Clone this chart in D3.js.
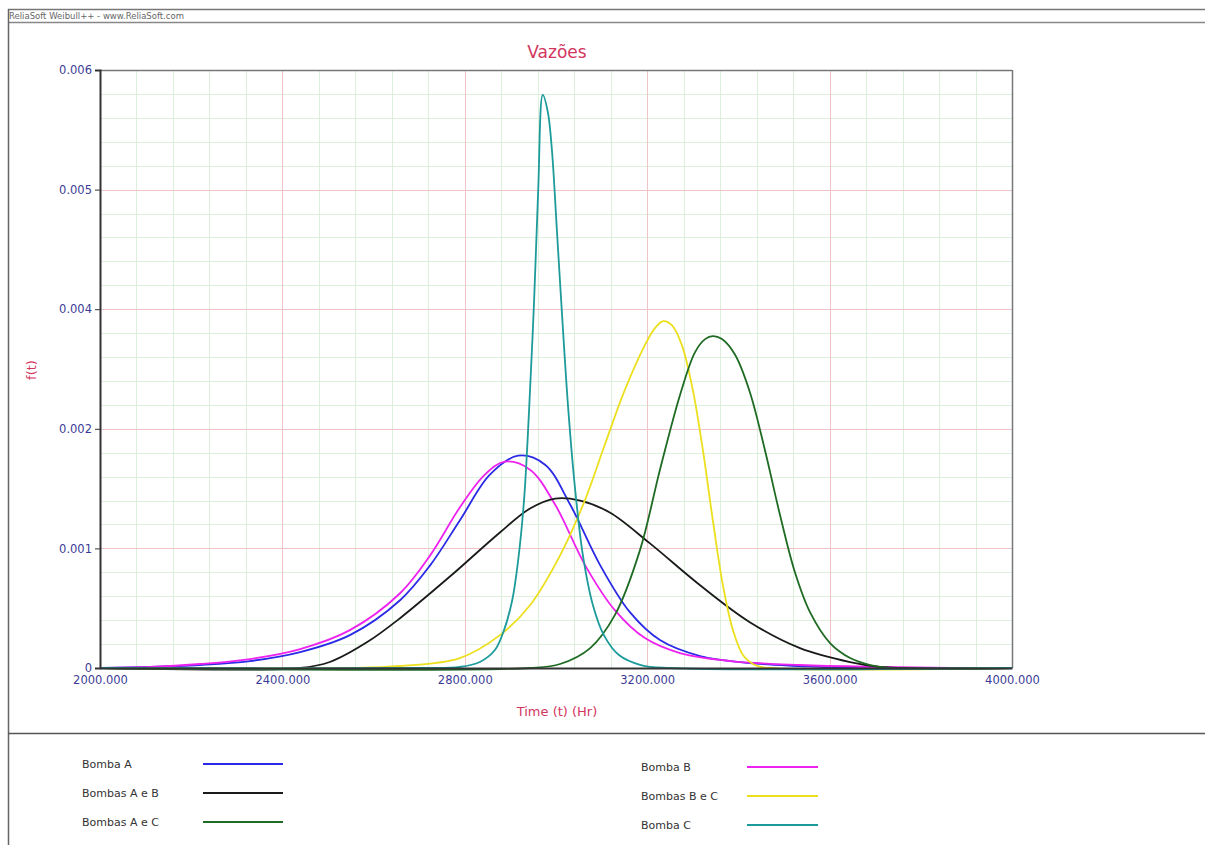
<!DOCTYPE html>
<html>
<head>
<meta charset="utf-8">
<script src="https://cdn.jsdelivr.net/npm/d3@7/dist/d3.min.js"></script>
<style>
  html, body { margin: 0; padding: 0; background: #ffffff; }
  svg { display: block; }
</style>
</head>
<body>
<script>
// Probability density f(t) for each pump configuration, sampled along time (Hr)
const bombaA_t = [2000, 2110, 2219, 2329, 2439, 2548, 2658, 2724, 2789, 2855, 2917, 2976, 3031, 3097, 3162, 3228, 3316, 3425, 3535, 3645, 4000];
const bombaA_f = [0, 0.00001, 0.00003, 0.00007, 0.00016, 0.00033, 0.00068, 0.00103, 0.00148, 0.00194, 0.00213, 0.00204, 0.00164, 0.00103, 0.00056, 0.00028, 0.00012, 0.00005, 0.00002, 0, 0];

const bombaB_t = [2000, 2110, 2219, 2329, 2439, 2548, 2658, 2724, 2789, 2844, 2888, 2943, 2998, 3064, 3129, 3195, 3272, 3382, 3535, 3711, 3864, 4000];
const bombaB_f = [0, 0.00001, 0.00004, 0.00009, 0.00019, 0.00038, 0.00075, 0.00113, 0.00161, 0.00194, 0.00207, 0.00199, 0.00164, 0.00103, 0.00058, 0.0003, 0.00015, 0.00007, 0.00003, 0.00001, 0, 0];

const bombasAB_t = [2000, 2439, 2504, 2586, 2658, 2768, 2877, 2943, 2998, 3053, 3118, 3206, 3316, 3425, 3535, 3645, 3711, 3754, 4000];
const bombasAB_f = [0, 0, 0.00006, 0.00026, 0.0005, 0.00092, 0.00136, 0.0016, 0.0017, 0.00168, 0.00156, 0.00125, 0.00083, 0.00046, 0.0002, 0.00006, 0.00001, 0, 0];

const bombasAC_t = [2000, 2943, 3009, 3075, 3129, 3184, 3228, 3272, 3305, 3327, 3344, 3364, 3393, 3425, 3458, 3491, 3524, 3557, 3601, 3645, 3689, 3732, 4000];
const bombasAC_f = [0, 0, 0.00004, 0.0002, 0.00053, 0.00118, 0.00199, 0.00274, 0.00317, 0.0033, 0.00333, 0.0033, 0.00314, 0.00277, 0.00219, 0.00154, 0.00096, 0.00056, 0.00025, 0.0001, 0.00003, 0, 0];

const bombasBC_t = [2000, 2548, 2658, 2789, 2877, 2943, 3009, 3064, 3107, 3151, 3195, 3217, 3235, 3254, 3276, 3300, 3322, 3344, 3366, 3388, 3410, 3436, 3469, 4000];
const bombasBC_f = [0, 0, 0.00002, 0.0001, 0.00033, 0.00063, 0.00113, 0.00169, 0.00224, 0.00279, 0.00324, 0.00341, 0.00348, 0.00344, 0.00324, 0.00279, 0.00219, 0.00148, 0.00083, 0.00038, 0.00013, 0.00003, 0, 0];

const bombaC_t = [2000, 2702, 2789, 2833, 2866, 2886, 2904, 2917, 2930, 2941, 2952, 2961, 2971, 2982, 2991, 3002, 3014, 3027, 3042, 3059, 3081, 3105, 3138, 3186, 3250, 4000];
const bombaC_f = [0, 0, 0.00001, 0.00006, 0.00018, 0.00038, 0.00068, 0.00108, 0.00169, 0.00259, 0.00369, 0.0048, 0.00575, 0.00558, 0.0052, 0.00439, 0.00349, 0.00259, 0.00179, 0.00113, 0.00063, 0.00033, 0.00013, 0.00003, 0, 0];

const xTicks = [2000, 2400, 2800, 3200, 3600, 4000];
const xTickLabels = ["2000.000", "2400.000", "2800.000", "3200.000", "3600.000", "4000.000"];
const yTicks = [0, 0.0012, 0.0024, 0.0036, 0.0048, 0.006];
const yTickLabels = ["0", "0.001", "0.002", "0.004", "0.005", "0.006"];

const colors = {
  "Bomba A": "#2a2ae6",
  "Bombas A e B": "#1a1a1a",
  "Bombas A e C": "#1f6b24",
  "Bomba B": "#ee22ee",
  "Bombas B e C": "#ecdf1e",
  "Bomba C": "#1d9a9a"
};

const series = [
  { name: "Bomba A", t: bombaA_t, f: bombaA_f },
  { name: "Bomba B", t: bombaB_t, f: bombaB_f },
  { name: "Bombas A e B", t: bombasAB_t, f: bombasAB_f },
  { name: "Bombas B e C", t: bombasBC_t, f: bombasBC_f },
  { name: "Bombas A e C", t: bombasAC_t, f: bombasAC_f },
  { name: "Bomba C", t: bombaC_t, f: bombaC_f }
];

const W = 1205, H = 845;
const plot = { left: 100, right: 1012, top: 70, bottom: 668 };
const accent = "#d2365f";
const tickColor = "#3c3c96";

const svg = d3.select("body").append("svg").attr("width", W).attr("height", H);

// Window frame with header strip
svg.append("rect").attr("width", W).attr("height", H).attr("fill", "#fff");
svg.append("line").attr("x1", 8).attr("x2", W).attr("y1", 9.5).attr("y2", 9.5).attr("stroke", "#777").attr("stroke-width", 1.5);
svg.append("line").attr("x1", 8).attr("x2", W).attr("y1", 22.5).attr("y2", 22.5).attr("stroke", "#888").attr("stroke-width", 1.5);
svg.append("line").attr("x1", 8.5).attr("x2", 8.5).attr("y1", 9).attr("y2", H).attr("stroke", "#666").attr("stroke-width", 1.5);
svg.append("line").attr("x1", 8).attr("x2", W).attr("y1", 733.5).attr("y2", 733.5).attr("stroke", "#555").attr("stroke-width", 1.5);
svg.append("text").attr("x", 9).attr("y", 19).attr("font-family", "DejaVu Sans").attr("font-size", 8.5)
  .attr("fill", "#666").text("ReliaSoft Weibull++ - www.ReliaSoft.com");

const x = d3.scaleLinear().domain([2000, 4000]).range([plot.left, plot.right]);
const y = d3.scaleLinear().domain([0, 0.006]).range([plot.bottom, plot.top]);

// Minor grid
const xMinor = d3.range(2000, 4000.1, 80);
const yMinor = d3.range(0, 0.00601, 0.00024);
const grid = svg.append("g");
grid.selectAll(".vm").data(xMinor).join("line")
  .attr("x1", d => Math.round(x(d)) + 0.5).attr("x2", d => Math.round(x(d)) + 0.5)
  .attr("y1", plot.top).attr("y2", plot.bottom)
  .attr("stroke", "#dcf0dc").attr("stroke-width", 1);
grid.selectAll(".hm").data(yMinor).join("line")
  .attr("y1", d => Math.round(y(d)) + 0.5).attr("y2", d => Math.round(y(d)) + 0.5)
  .attr("x1", plot.left).attr("x2", plot.right)
  .attr("stroke", "#dcf0dc").attr("stroke-width", 1);
// Major grid
grid.selectAll(".vM").data(xTicks).join("line")
  .attr("x1", d => Math.round(x(d)) + 0.5).attr("x2", d => Math.round(x(d)) + 0.5)
  .attr("y1", plot.top).attr("y2", plot.bottom)
  .attr("stroke", "#efc4c8").attr("stroke-width", 1);
grid.selectAll(".hM").data(yTicks).join("line")
  .attr("y1", d => Math.round(y(d)) + 0.5).attr("y2", d => Math.round(y(d)) + 0.5)
  .attr("x1", plot.left).attr("x2", plot.right)
  .attr("stroke", "#efc4c8").attr("stroke-width", 1);

// Plot frame
svg.append("line").attr("x1", plot.left).attr("x2", plot.right).attr("y1", plot.top + 0.5).attr("y2", plot.top + 0.5).attr("stroke", "#777").attr("stroke-width", 1.5);
svg.append("line").attr("x1", plot.right + 0.5).attr("x2", plot.right + 0.5).attr("y1", plot.top).attr("y2", plot.bottom).attr("stroke", "#777").attr("stroke-width", 1.5);

// Curves
const line = d3.line().x(d => x(d[0])).y(d => y(Math.max(0, d[1]))).curve(d3.curveCatmullRom.alpha(0.5));
svg.append("g").selectAll("path").data(series).join("path")
  .attr("d", s => line(s.t.map((t, i) => [t, s.f[i]])))
  .attr("fill", "none")
  .attr("stroke", s => colors[s.name])
  .attr("stroke-width", 1.8)
  .attr("stroke-linejoin", "round");

// Axes
const xAxis = d3.axisBottom(x).tickValues(xTicks).tickFormat((d, i) => xTickLabels[i]).tickSize(0).tickPadding(8);
const gx = svg.append("g").attr("transform", `translate(0,${plot.bottom})`).call(xAxis);
gx.select(".domain").attr("stroke", "#333").attr("stroke-width", 2);
gx.selectAll("text").attr("fill", tickColor).attr("font-family", "DejaVu Sans").attr("font-size", 11.5);

const yAxis = d3.axisLeft(y).tickValues(yTicks).tickFormat((d, i) => yTickLabels[i]).tickSize(5).tickPadding(3);
const gy = svg.append("g").attr("transform", `translate(${plot.left},0)`).call(yAxis);
gy.select(".domain").attr("stroke", "#333").attr("stroke-width", 2);
gy.selectAll(".tick line").attr("stroke", "#333");
gy.selectAll("text").attr("fill", tickColor).attr("font-family", "DejaVu Sans").attr("font-size", 11.5);

// Titles
svg.append("text").attr("x", 557).attr("y", 58).attr("text-anchor", "middle")
  .attr("font-family", "DejaVu Sans").attr("font-size", 17).attr("fill", accent).text("Vazões");
svg.append("text").attr("x", 557).attr("y", 716).attr("text-anchor", "middle")
  .attr("font-family", "DejaVu Sans").attr("font-size", 13).attr("fill", accent).text("Time (t) (Hr)");
svg.append("text").attr("transform", "translate(36,370) rotate(-90)").attr("text-anchor", "middle")
  .attr("font-family", "DejaVu Sans").attr("font-size", 13).attr("fill", accent).text("f(t)");

// Legend
const legendItems = [
  { name: "Bomba A", col: 0, row: 0 },
  { name: "Bombas A e B", col: 0, row: 1 },
  { name: "Bombas A e C", col: 0, row: 2 },
  { name: "Bomba B", col: 1, row: 0 },
  { name: "Bombas B e C", col: 1, row: 1 },
  { name: "Bomba C", col: 1, row: 2 }
];
const legendCols = [{ tx: 82, lx1: 203, lx2: 283, y0: 764 }, { tx: 641, lx1: 747, lx2: 818, y0: 767 }];
const lg = svg.append("g").selectAll("g").data(legendItems).join("g")
  .attr("transform", d => `translate(0,${legendCols[d.col].y0 + d.row * 29})`);
lg.append("text").attr("x", d => legendCols[d.col].tx).attr("y", 4)
  .attr("font-family", "DejaVu Sans").attr("font-size", 11).attr("fill", "#333").text(d => d.name);
lg.append("line").attr("x1", d => legendCols[d.col].lx1).attr("x2", d => legendCols[d.col].lx2)
  .attr("y1", 0).attr("y2", 0).attr("stroke", d => colors[d.name]).attr("stroke-width", 2.2);
</script>
</body>
</html>
